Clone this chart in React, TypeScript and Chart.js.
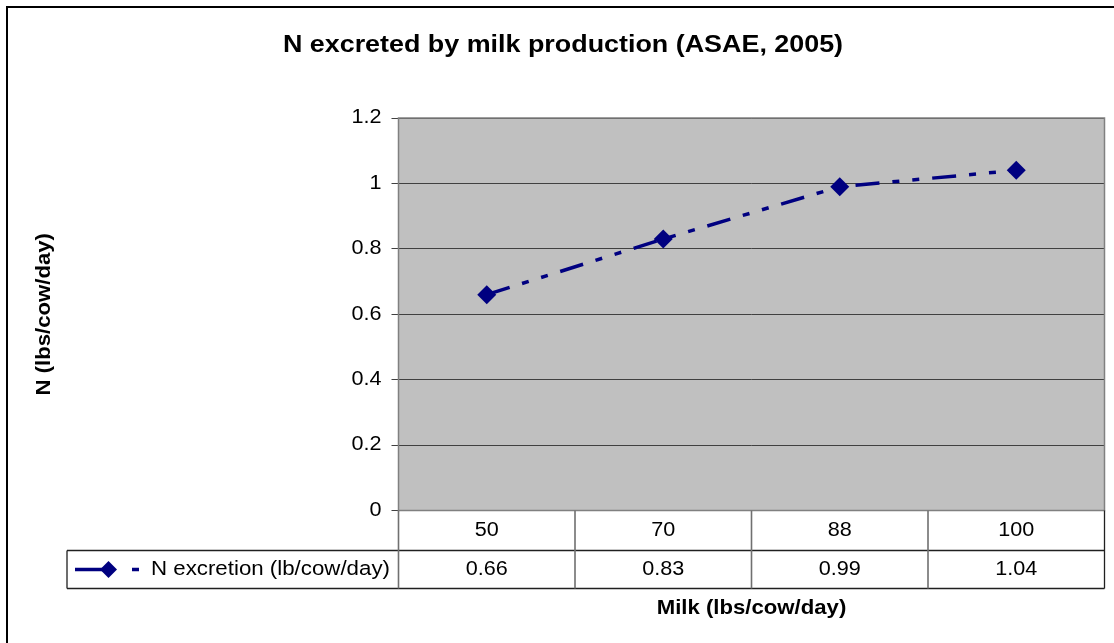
import React, { useEffect, useRef } from "react";
import { Chart, registerables } from "chart.js";

Chart.register(...registerables);

const chartTitle = "N excreted by milk production (ASAE, 2005)";
const xTitle = "Milk (lbs/cow/day)";
const yTitle = "N (lbs/cow/day)";
const seriesName = "N excretion (lb/cow/day)";
const categories = ["50", "70", "88", "100"];
const nExcretion = [0.66, 0.83, 0.99, 1.04];
const yMin = 0;
const yMax = 1.2;
const yStep = 0.2;

const FF = '"Liberation Sans", Arial, sans-serif';
const SX = 1.12;
const LINE_COLOR = "#000080";
const DASH = [24, 13, 7, 13, 7, 13];

function txt(
  ctx: CanvasRenderingContext2D,
  s: string,
  x: number,
  y: number,
  font: string,
  align: CanvasTextAlign,
  rot = 0
) {
  ctx.save();
  ctx.translate(x, y);
  ctx.rotate(rot);
  ctx.scale(SX, 1);
  ctx.font = font;
  ctx.textAlign = align;
  ctx.textBaseline = "middle";
  ctx.fillStyle = "#000";
  ctx.fillText(s, 0, 0);
  ctx.restore();
}

function diamond(ctx: CanvasRenderingContext2D, x: number, y: number, r: number) {
  ctx.beginPath();
  ctx.moveTo(x, y - r);
  ctx.lineTo(x + r, y);
  ctx.lineTo(x, y + r);
  ctx.lineTo(x - r, y);
  ctx.closePath();
  ctx.fillStyle = LINE_COLOR;
  ctx.fill();
}

const excelPlugin = {
  id: "excelLook",
  beforeDraw(chart: any) {
    const { ctx, chartArea: a } = chart;
    ctx.save();
    ctx.fillStyle = "#C0C0C0";
    ctx.fillRect(a.left, a.top, a.right - a.left, a.bottom - a.top);
    ctx.restore();
  },
  afterDraw(chart: any) {
    const { ctx, chartArea: a } = chart;
    const xs = chart.scales.x;
    const ys = chart.scales.y;
    ctx.save();
    // plot area border
    ctx.strokeStyle = "#808080";
    ctx.lineWidth = 1.5;
    ctx.strokeRect(a.left, a.top, a.right - a.left, a.bottom - a.top);

    // outer chart border
    ctx.strokeStyle = "#000";
    ctx.lineWidth = 2;
    ctx.strokeRect(7, 7, 1300, 800);

    // title
    txt(ctx, chartTitle, 563, 45, `bold 24px ${FF}`, "center");

    // y tick labels
    const tickFont = `19.3px ${FF}`;
    ys.ticks.forEach((t: any) => {
      const y = ys.getPixelForValue(t.value);
      const label = String(Number(t.value.toFixed(1)));
      txt(ctx, label, a.left - 17, y, tickFont, "right");
    });

    // data table
    const n = categories.length;
    const colW = (a.right - a.left) / n;
    const row1Top = a.bottom;
    const row1Bot = a.bottom + 40;
    const row2Bot = a.bottom + 78;
    const legLeft = 67;

    ctx.strokeStyle = "#202020";
    ctx.lineWidth = 1.3;
    ctx.beginPath();
    ctx.moveTo(legLeft, row1Bot);
    ctx.lineTo(a.right, row1Bot);
    ctx.moveTo(legLeft, row2Bot);
    ctx.lineTo(a.right, row2Bot);
    ctx.moveTo(legLeft, row1Bot);
    ctx.lineTo(legLeft, row2Bot);
    ctx.moveTo(a.right, row1Top);
    ctx.lineTo(a.right, row2Bot);
    ctx.stroke();

    ctx.strokeStyle = "#707070";
    ctx.lineWidth = 1.6;
    ctx.beginPath();
    for (let i = 0; i < n; i++) {
      const xl = xs.getPixelForValue(i) - colW / 2;
      ctx.moveTo(xl, row1Top);
      ctx.lineTo(xl, row2Bot);
    }
    ctx.stroke();

    const r1y = (row1Top + row1Bot) / 2;
    const r2y = (row1Bot + row2Bot) / 2;
    categories.forEach((c, i) => {
      const cx = xs.getPixelForValue(i);
      txt(ctx, c, cx, r1y, tickFont, "center");
      txt(ctx, nExcretion[i].toFixed(2), cx, r2y, tickFont, "center");
    });

    // legend key
    ctx.strokeStyle = LINE_COLOR;
    ctx.lineWidth = 3.5;
    ctx.beginPath();
    ctx.moveTo(75, r2y);
    ctx.lineTo(103, r2y);
    ctx.moveTo(132, r2y);
    ctx.lineTo(139, r2y);
    ctx.stroke();
    diamond(ctx, 108.5, r2y, 8.5);
    txt(ctx, seriesName, 151, r2y, `19.9px ${FF}`, "left");

    // axis titles
    txt(ctx, xTitle, (a.left + a.right) / 2, 609, `bold 19.8px ${FF}`, "center");
    txt(ctx, yTitle, 45, (a.top + a.bottom) / 2, `bold 19.8px ${FF}`, "center", -Math.PI / 2);
    ctx.restore();
  },
};

export default function App() {
  const ref = useRef<HTMLCanvasElement | null>(null);
  useEffect(() => {
    if (!ref.current) return;
    const chart = new Chart(ref.current, {
      type: "line",
      data: {
        labels: categories,
        datasets: [
          {
            label: seriesName,
            data: nExcretion,
            borderColor: LINE_COLOR,
            backgroundColor: LINE_COLOR,
            borderWidth: 3.5,
            borderDash: DASH,
            tension: 0,
            pointStyle: "rectRot",
            pointRadius: 9.5,
            pointBorderWidth: 0,
            pointBackgroundColor: LINE_COLOR,
            pointBorderColor: LINE_COLOR,
          },
        ],
      },
      options: {
        animation: false,
        responsive: false,
        layout: { padding: { left: 0, top: 118, right: 8, bottom: 132.5 } },
        plugins: { legend: { display: false }, title: { display: false }, tooltip: { enabled: false } },
        scales: {
          x: { type: "category", display: false, offset: true },
          y: {
            min: yMin,
            max: yMax,
            ticks: { stepSize: yStep, display: false },
            grid: { color: "#404040", lineWidth: 1, drawTicks: true, tickLength: 7, tickColor: "#404040" },
            border: { display: true, color: "#404040", width: 1 },
            afterFit: (scale: any) => {
              scale.width = 398.5;
            },
          },
        },
      },
      plugins: [excelPlugin],
    });
    return () => chart.destroy();
  }, []);
  return (
    <div style={{ position: "absolute", left: 0, top: 0, width: 1114, height: 643, background: "#fff" }}>
      <canvas ref={ref} width={1114} height={643} style={{ width: 1114, height: 643, display: "block" }} />
    </div>
  );
}
